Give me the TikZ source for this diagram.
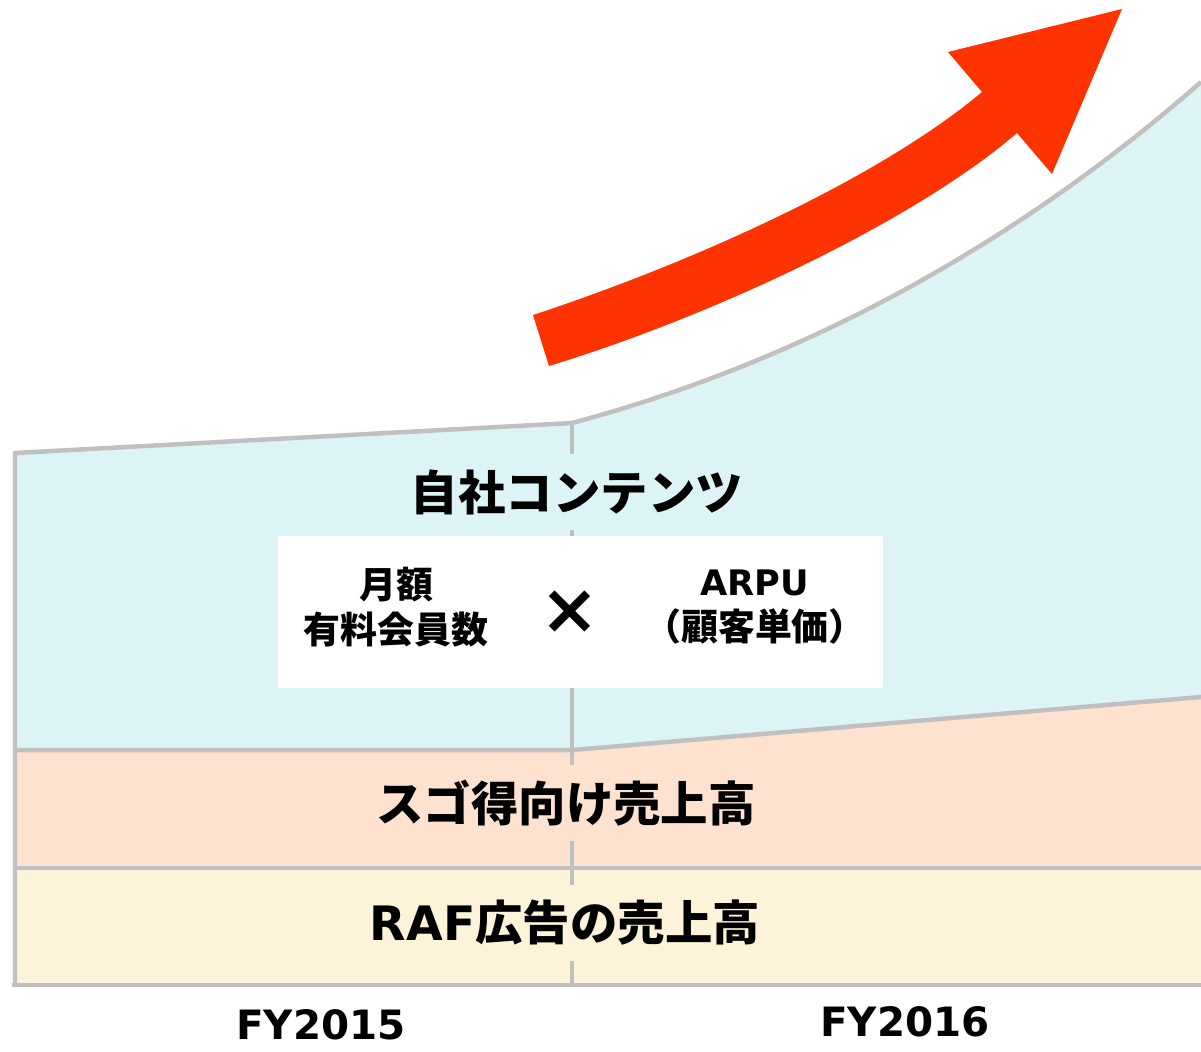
\documentclass[tikz,border=0pt]{standalone}
\usepackage{fontspec}
\newfontfamily\jpfont{Noto Sans CJK JP}
\newfontfamily\latfont{DejaVu Sans}
\usetikzlibrary{arrows.meta}
\definecolor{own-blue}{HTML}{DDF4F7}
\definecolor{sugo-peach}{HTML}{FDE2D0}
\definecolor{raf-yellow}{HTML}{FCF3D8}
\definecolor{edge-gray}{HTML}{C0C0C0}
\definecolor{up-red}{HTML}{FF3300}
\tikzset{
	edge line/.style={draw=edge-gray, line width=0.09cm, line join=round},
	band text/.style={font=\jpfont\bfseries\fontsize{27}{32}\selectfont, inner xsep=0.1cm, inner ysep=0.3cm},
	box text/.style={align=center, font=\jpfont\bfseries\fontsize{21}{25.6}\selectfont},
	year text/.style={inner sep=0pt, font=\latfont\bfseries\fontsize{23}{27}\selectfont}
}

\begin{document}
\begin{tikzpicture}[x=0.02cm, y=-0.02cm]
	\useasboundingbox (0,0) rectangle (1201,1052);

	\fill[own-blue] (15,453) -- (572,423) .. controls (822,356) and (1031,231) .. (1201,82) -- (1201,697) -- (572,750) -- (15,750) -- cycle;
	\fill[sugo-peach] (15,750) -- (572,750) -- (1201,697) -- (1201,868) -- (15,868) -- cycle;
	\fill[raf-yellow] (15,868) rectangle (1201,985);

	\draw[edge line] (15,985) -- (15,453) -- (572,423) .. controls (822,356) and (1031,231) .. (1201,82);
	\draw[edge line] (15,750) -- (572,750) -- (1201,697);
	\draw[edge line] (15,868) -- (1201,868);
	\draw[edge line] (12,985) -- (1201,985);
	\draw[edge line] (572,423) -- (572,985);

	\fill[up-red] (533,315) .. controls (700,260) and (882,176) .. (982,92) -- (948,52) -- (1122,9) -- (1052,174) -- (1017,133) .. controls (917,219) and (719,314) .. (549,366) -- cycle;

	\node[band text, fill=own-blue] at (577,492) (own-content) {自社コンテンツ};
	\node[fill=white, minimum width=12.1cm, minimum height=3.04cm] at (580.5,612) (formula-box) {};
	\node[box text] at (396,607) (members) {月額\\有料会員数};
	\node[font=\latfont\bfseries\fontsize{40}{40}\selectfont] at (570,612) (times) {×};
	\node[box text] at (755,607) (arpu) {{\latfont\bfseries\fontsize{20}{25.6}\selectfont ARPU}\\（顧客単価）};

	\node[band text, fill=sugo-peach] at (566,803) (sugo-sales) {スゴ得向け売上高};
	\node[band text, fill=raf-yellow] at (565,923) (raf-sales) {{\latfont\bfseries RAF}広告の売上高};

	\node[year text] at (321,1025) (fy-2015) {FY2015};
	\node[year text] at (905,1022) (fy-2016) {FY2016};
\end{tikzpicture}
\end{document}
